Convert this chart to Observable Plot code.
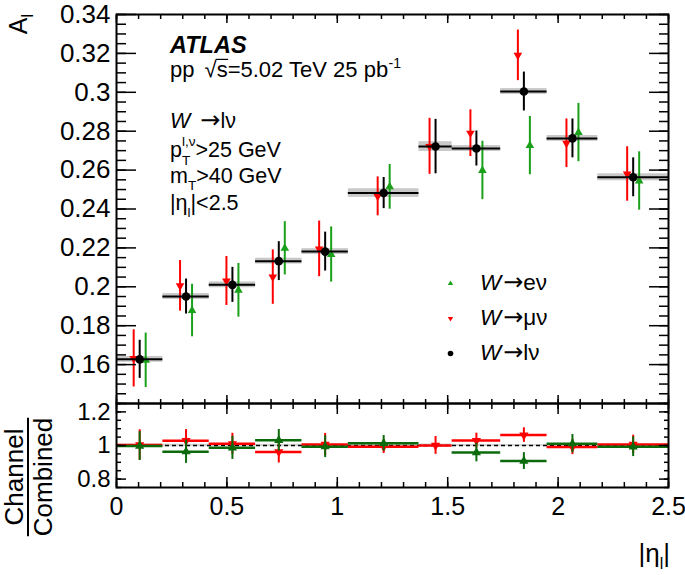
<!DOCTYPE html>
<html><head><meta charset="utf-8">
<script src="https://cdn.jsdelivr.net/npm/d3@7"></script>
<script src="https://cdn.jsdelivr.net/npm/@observablehq/plot@0.6"></script>
<style>
html,body{margin:0;padding:0;background:#fff;}
#chart{position:relative;width:685px;height:575px;overflow:hidden;background:#fff;}
#chart svg{position:absolute;left:0;overflow:visible;}
</style></head><body><div id="chart"></div>
<script>
// ---------------- data ----------------
const binEdges = [0, 0.21, 0.42, 0.63, 0.84, 1.05, 1.37, 1.52, 1.74, 1.95, 2.18, 2.5];
const combinedA    = [0.1627, 0.1950, 0.2010, 0.2132, 0.2181, 0.2482, 0.2721, 0.2711, 0.3004, 0.2763, 0.2563];
const combinedErr  = [0.0098, 0.0090, 0.0090, 0.0100, 0.0100, 0.0080, 0.0140, 0.0090, 0.0100, 0.0100, 0.0100];
const combinedSyst = [0.0015, 0.0015, 0.0015, 0.0015, 0.0015, 0.0022, 0.0025, 0.0015, 0.0015, 0.0015, 0.0018];
const muonA    = [0.1632, 0.2005, 0.2030, 0.2050, 0.2195, 0.2465, 0.2722, 0.2790, 0.3190, 0.2738, 0.2580];
const muonErr  = [0.0147, 0.0130, 0.0126, 0.0140, 0.0143, 0.0100, 0.0144, 0.0120, 0.0130, 0.0125, 0.0140];
const electronA   = [0.1622, 0.1878, 0.1982, 0.2198, 0.2166, 0.2514, null, 0.2598, 0.2726, 0.2793, 0.2544];
const electronErr = [0.0140, 0.0135, 0.0138, 0.0137, 0.0142, 0.0115, null, 0.0150, 0.0150, 0.0150, 0.0150];

const xTickLabels = [0, 0.5, 1, 1.5, 2, 2.5];
const yTickLabelsMain = [0.16, 0.18, 0.2, 0.22, 0.24, 0.26, 0.28, 0.3, 0.32, 0.34];
const yTickLabelsRatio = [0.8, 1, 1.2];

// ---------------- styling ----------------
const FONT = '"Liberation Sans", Arial, Helvetica, sans-serif';
const ARROWFONT = '"DejaVu Sans", sans-serif';
const RED = "#ff0000", GREEN = "#1aa01a", DGREEN = "#0b6a0b";
const W = 685, ML = 116, MR = 17;

const bins = binEdges.slice(0, -1).map((lo, i) => ({i, lo, hi: binEdges[i + 1], c: (lo + binEdges[i + 1]) / 2}));
const comb = bins.map((b, i) => ({...b, v: combinedA[i], e: combinedErr[i], s: combinedSyst[i]}));
const mu = bins.map((b, i) => ({...b, v: muonA[i], e: muonErr[i], r: muonA[i] / combinedA[i], re: muonErr[i] / combinedA[i]}));
const el = bins.map((b, i) => ({...b, v: electronA[i], e: electronErr[i], r: electronA[i] / combinedA[i], re: electronErr[i] / combinedA[i]}))
  .filter(d => d.v != null);

const xMinor = d3.range(0, 2.5001, 0.1).map(d => +d.toFixed(2));
const yMinorMain = d3.range(0.14, 0.34001, 0.005).map(d => +d.toFixed(3));
const yMinorRatio = d3.range(0.75, 1.25001, 0.05).map(d => +d.toFixed(2));
const fmt = d3.format("~g");
const tk = {fill: "none", strokeWidth: 1.5, stroke: "black"};

const main = Plot.plot({
  width: W, height: 403, marginLeft: ML, marginRight: MR, marginTop: 14, marginBottom: 0,
  style: {fontFamily: FONT, fontSize: "26px", color: "black", background: "transparent"},
  x: {domain: [0, 2.5]},
  y: {domain: [0.14, 0.34]},
  marks: [
    Plot.rect(comb, {x1: "lo", x2: "hi", y1: d => d.v - d.s, y2: d => d.v + d.s, fill: "#c8c8c8"}),
    Plot.ruleX(mu, {x: "c", y1: d => d.v - d.e, y2: d => d.v + d.e, stroke: RED, strokeWidth: 2, dx: -6}),
    Plot.dot(mu, {x: "c", y: "v", symbol: "triangle", rotate: 180, r: 3.2, fill: RED, stroke: "none", dx: -6}),
    Plot.ruleX(el, {x: "c", y1: d => d.v - d.e, y2: d => d.v + d.e, stroke: GREEN, strokeWidth: 2, dx: 6}),
    Plot.dot(el, {x: "c", y: "v", symbol: "triangle", r: 3.2, fill: GREEN, stroke: "none", dx: 6}),
    Plot.ruleY(comb, {y: "v", x1: "lo", x2: "hi", stroke: "black", strokeWidth: 2}),
    Plot.ruleX(comb, {x: "c", y1: d => d.v - d.e, y2: d => d.v + d.e, stroke: "black", strokeWidth: 2}),
    Plot.dot(comb, {x: "c", y: "v", r: 4.3, fill: "black", stroke: "none"}),
    // ticks (inward)
    Plot.axisY({anchor: "left", ticks: yTickLabelsMain, tickSize: -20, ...tk}),
    Plot.axisY({anchor: "left", ticks: yMinorMain, tickSize: -10, ...tk}),
    Plot.axisY({anchor: "right", ticks: yTickLabelsMain, tickSize: -20, ...tk}),
    Plot.axisY({anchor: "right", ticks: yMinorMain, tickSize: -10, ...tk}),
    Plot.axisX({anchor: "bottom", ticks: xTickLabels, tickSize: -8, ...tk}),
    Plot.axisX({anchor: "bottom", ticks: xMinor, tickSize: -4, ...tk}),
    Plot.axisX({anchor: "top", ticks: xTickLabels, tickSize: -8, ...tk}),
    Plot.axisX({anchor: "top", ticks: xMinor, tickSize: -4, ...tk}),
    Plot.axisY({anchor: "left", ticks: yTickLabelsMain, tickSize: 0, tickPadding: 6, stroke: "none", fill: "black", tickFormat: fmt, label: null}),
    Plot.frame({stroke: "black", strokeWidth: 2}),
    // legend markers
    Plot.dot([0], {frameAnchor: "top-left", dx: 334, dy: 269, symbol: "triangle", r: 2, fill: GREEN, stroke: "none"}),
    Plot.dot([0], {frameAnchor: "top-left", dx: 334, dy: 304, symbol: "triangle", rotate: 180, r: 2, fill: RED, stroke: "none"}),
    Plot.dot([0], {frameAnchor: "top-left", dx: 334, dy: 339, r: 2.8, fill: "black", stroke: "none"})
  ]
});

const ratio = Plot.plot({
  width: W, height: 185, marginLeft: ML, marginRight: MR, marginTop: 13, marginBottom: 88,
  style: {fontFamily: FONT, fontSize: "24px", color: "black", background: "transparent"},
  x: {domain: [0, 2.5]},
  y: {domain: [0.75, 1.25]},
  marks: [
    Plot.rect(comb, {x1: "lo", x2: "hi", y1: d => 1 - d.s / d.v, y2: d => 1 + d.s / d.v, fill: "#d4d4d4"}),
    Plot.ruleY([1], {stroke: "black", strokeWidth: 1.5, strokeDasharray: "4,3"}),
    Plot.ruleY(mu, {y: "r", x1: "lo", x2: "hi", stroke: RED, strokeWidth: 2.5}),
    Plot.ruleX(mu, {x: "c", y1: d => d.r - d.re, y2: d => d.r + d.re, stroke: RED, strokeWidth: 2}),
    Plot.dot(mu, {x: "c", y: "r", symbol: "triangle", rotate: 180, r: 3.4, fill: RED, stroke: "none"}),
    Plot.ruleY(el, {y: "r", x1: "lo", x2: "hi", stroke: DGREEN, strokeWidth: 2.5}),
    Plot.ruleX(el, {x: "c", y1: d => d.r - d.re, y2: d => d.r + d.re, stroke: DGREEN, strokeWidth: 2}),
    Plot.dot(el, {x: "c", y: "r", symbol: "triangle", r: 3.4, fill: DGREEN, stroke: "none"}),
    Plot.axisY({anchor: "left", ticks: yTickLabelsRatio, tickSize: -10, ...tk}),
    Plot.axisY({anchor: "left", ticks: yMinorRatio, tickSize: -5, ...tk}),
    Plot.axisY({anchor: "right", ticks: yTickLabelsRatio, tickSize: -10, ...tk}),
    Plot.axisY({anchor: "right", ticks: yMinorRatio, tickSize: -5, ...tk}),
    Plot.axisX({anchor: "bottom", ticks: xTickLabels, tickSize: -10, ...tk}),
    Plot.axisX({anchor: "bottom", ticks: xMinor, tickSize: -5, ...tk}),
    Plot.axisX({anchor: "top", ticks: xTickLabels, tickSize: -10, ...tk}),
    Plot.axisX({anchor: "top", ticks: xMinor, tickSize: -5, ...tk}),
    Plot.axisY({anchor: "left", ticks: yTickLabelsRatio, tickSize: 0, tickPadding: 6, stroke: "none", fill: "black", tickFormat: fmt, label: null}),
    Plot.axisX({anchor: "bottom", ticks: xTickLabels, tickSize: 0, tickPadding: 10, stroke: "none", fill: "black", fontSize: 25, tickFormat: fmt, label: null}),
    Plot.frame({stroke: "black", strokeWidth: 2})
  ]
});

const host = document.getElementById("chart");
main.style.top = "0px";
ratio.style.top = "390px";
host.appendChild(main);
host.appendChild(ratio);

// ---------------- rich text helper (canvas-measured) ----------------
const mctx = document.createElement("canvas").getContext("2d");
function measure(p, size) {
  mctx.font = `${p.italic ? "italic " : ""}${p.bold ? "bold " : ""}${p.size || size}px ${p.family || FONT}`;
  return mctx.measureText(p.t).width;
}
function rich(parent, x, y, pieces, size) {
  const g = parent.append("g").attr("font-family", FONT).attr("fill", "black").attr("text-anchor", "start");
  let cx = x, pending = 0;
  pieces.forEach(p => {
    const t = g.append("text").attr("x", cx + (p.dx || 0)).attr("y", y + (p.dy || 0))
      .attr("text-anchor", "start").attr("font-size", p.size || size).text(p.t);
    if (p.italic) t.attr("font-style", "italic");
    if (p.bold) t.attr("font-weight", "bold");
    if (p.family) t.attr("font-family", p.family);
    const w = measure(p, size) + (p.dx || 0);
    if (p.over) {
      g.append("line").attr("x1", cx + (p.dx || 0) - 1).attr("x2", cx + w + 0.5)
        .attr("y1", y - (p.size || size) * 0.8).attr("y2", y - (p.size || size) * 0.8)
        .attr("stroke", "black").attr("stroke-width", 1.2);
    }
    if (p.stack) { pending = Math.max(pending, w); }
    else { cx += Math.max(w, pending); pending = 0; }
  });
  return {g, width: cx - x};
}

const ms = d3.select(main);
const S = 21.5;
rich(ms, 170, 53, [{t: "ATLAS", bold: true, italic: true}], 23.5);
rich(ms, 170, 77, [{t: "pp "}, {t: "\u221A", dx: 4}, {t: "s", over: true}, {t: "=5.02 TeV 25 pb"}, {t: "-1", size: 14, dy: -9}], 22);
rich(ms, 170, 128, [{t: "W", italic: true}, {t: "\u2192", family: ARROWFONT, size: 24, dx: 10}, {t: "l\u03BD"}], S);
rich(ms, 170, 157, [{t: "p"}, {t: "l,\u03BD", size: 13.5, dy: -11, stack: true}, {t: "T", size: 13.5, dy: 8}, {t: ">25 GeV"}], S);
rich(ms, 170, 183, [{t: "m"}, {t: "T", size: 13.5, dy: 7}, {t: ">40 GeV"}], S);
rich(ms, 170, 210, [{t: "|\u03B7"}, {t: "l", size: 13.5, dy: 7}, {t: "|<2.5"}], S);
// legend texts
const LS = 22.5;
rich(ms, 480, 290, [{t: "W", italic: true}, {t: "\u2192", family: ARROWFONT, size: 24, dx: 2}, {t: "e\u03BD"}], LS);
rich(ms, 480, 325, [{t: "W", italic: true}, {t: "\u2192", family: ARROWFONT, size: 24, dx: 2}, {t: "\u03BC\u03BD"}], LS);
rich(ms, 480, 360, [{t: "W", italic: true}, {t: "\u2192", family: ARROWFONT, size: 24, dx: 2}, {t: "l\u03BD"}], LS);

// y-axis title A_l (rotated, right aligned at the top)
{
  const gy = ms.append("g");
  const r = rich(gy, 0, 0, [{t: "A"}, {t: "l", size: 16, dy: 6}], 25);
  r.g.attr("transform", `translate(${-r.width},0)`);
  gy.attr("transform", "translate(27,14) rotate(-90)");
}

const rs = d3.select(ratio);
// ratio y title: Channel / Combined
{
  const g = rs.append("g").attr("transform", "translate(28,87) rotate(-90)").attr("font-family", FONT).attr("fill", "black");
  g.append("text").attr("text-anchor", "middle").attr("y", -5).attr("font-size", 26).text("Channel");
  g.append("text").attr("text-anchor", "middle").attr("y", 24).attr("font-size", 26).text("Combined");
  const wb = measure({t: "Combined"}, 26);
  g.append("line").attr("x1", -wb / 2).attr("x2", wb / 2).attr("y1", 0).attr("y2", 0).attr("stroke", "black").attr("stroke-width", 2);
}
// x title |eta_l|
{
  const r = rich(rs, 0, 172, [{t: "|\u03B7"}, {t: "l", size: 16, dy: 7}, {t: "|"}], 26);
  r.g.attr("transform", `translate(${670 - r.width},0)`);
}
</script></body></html>
